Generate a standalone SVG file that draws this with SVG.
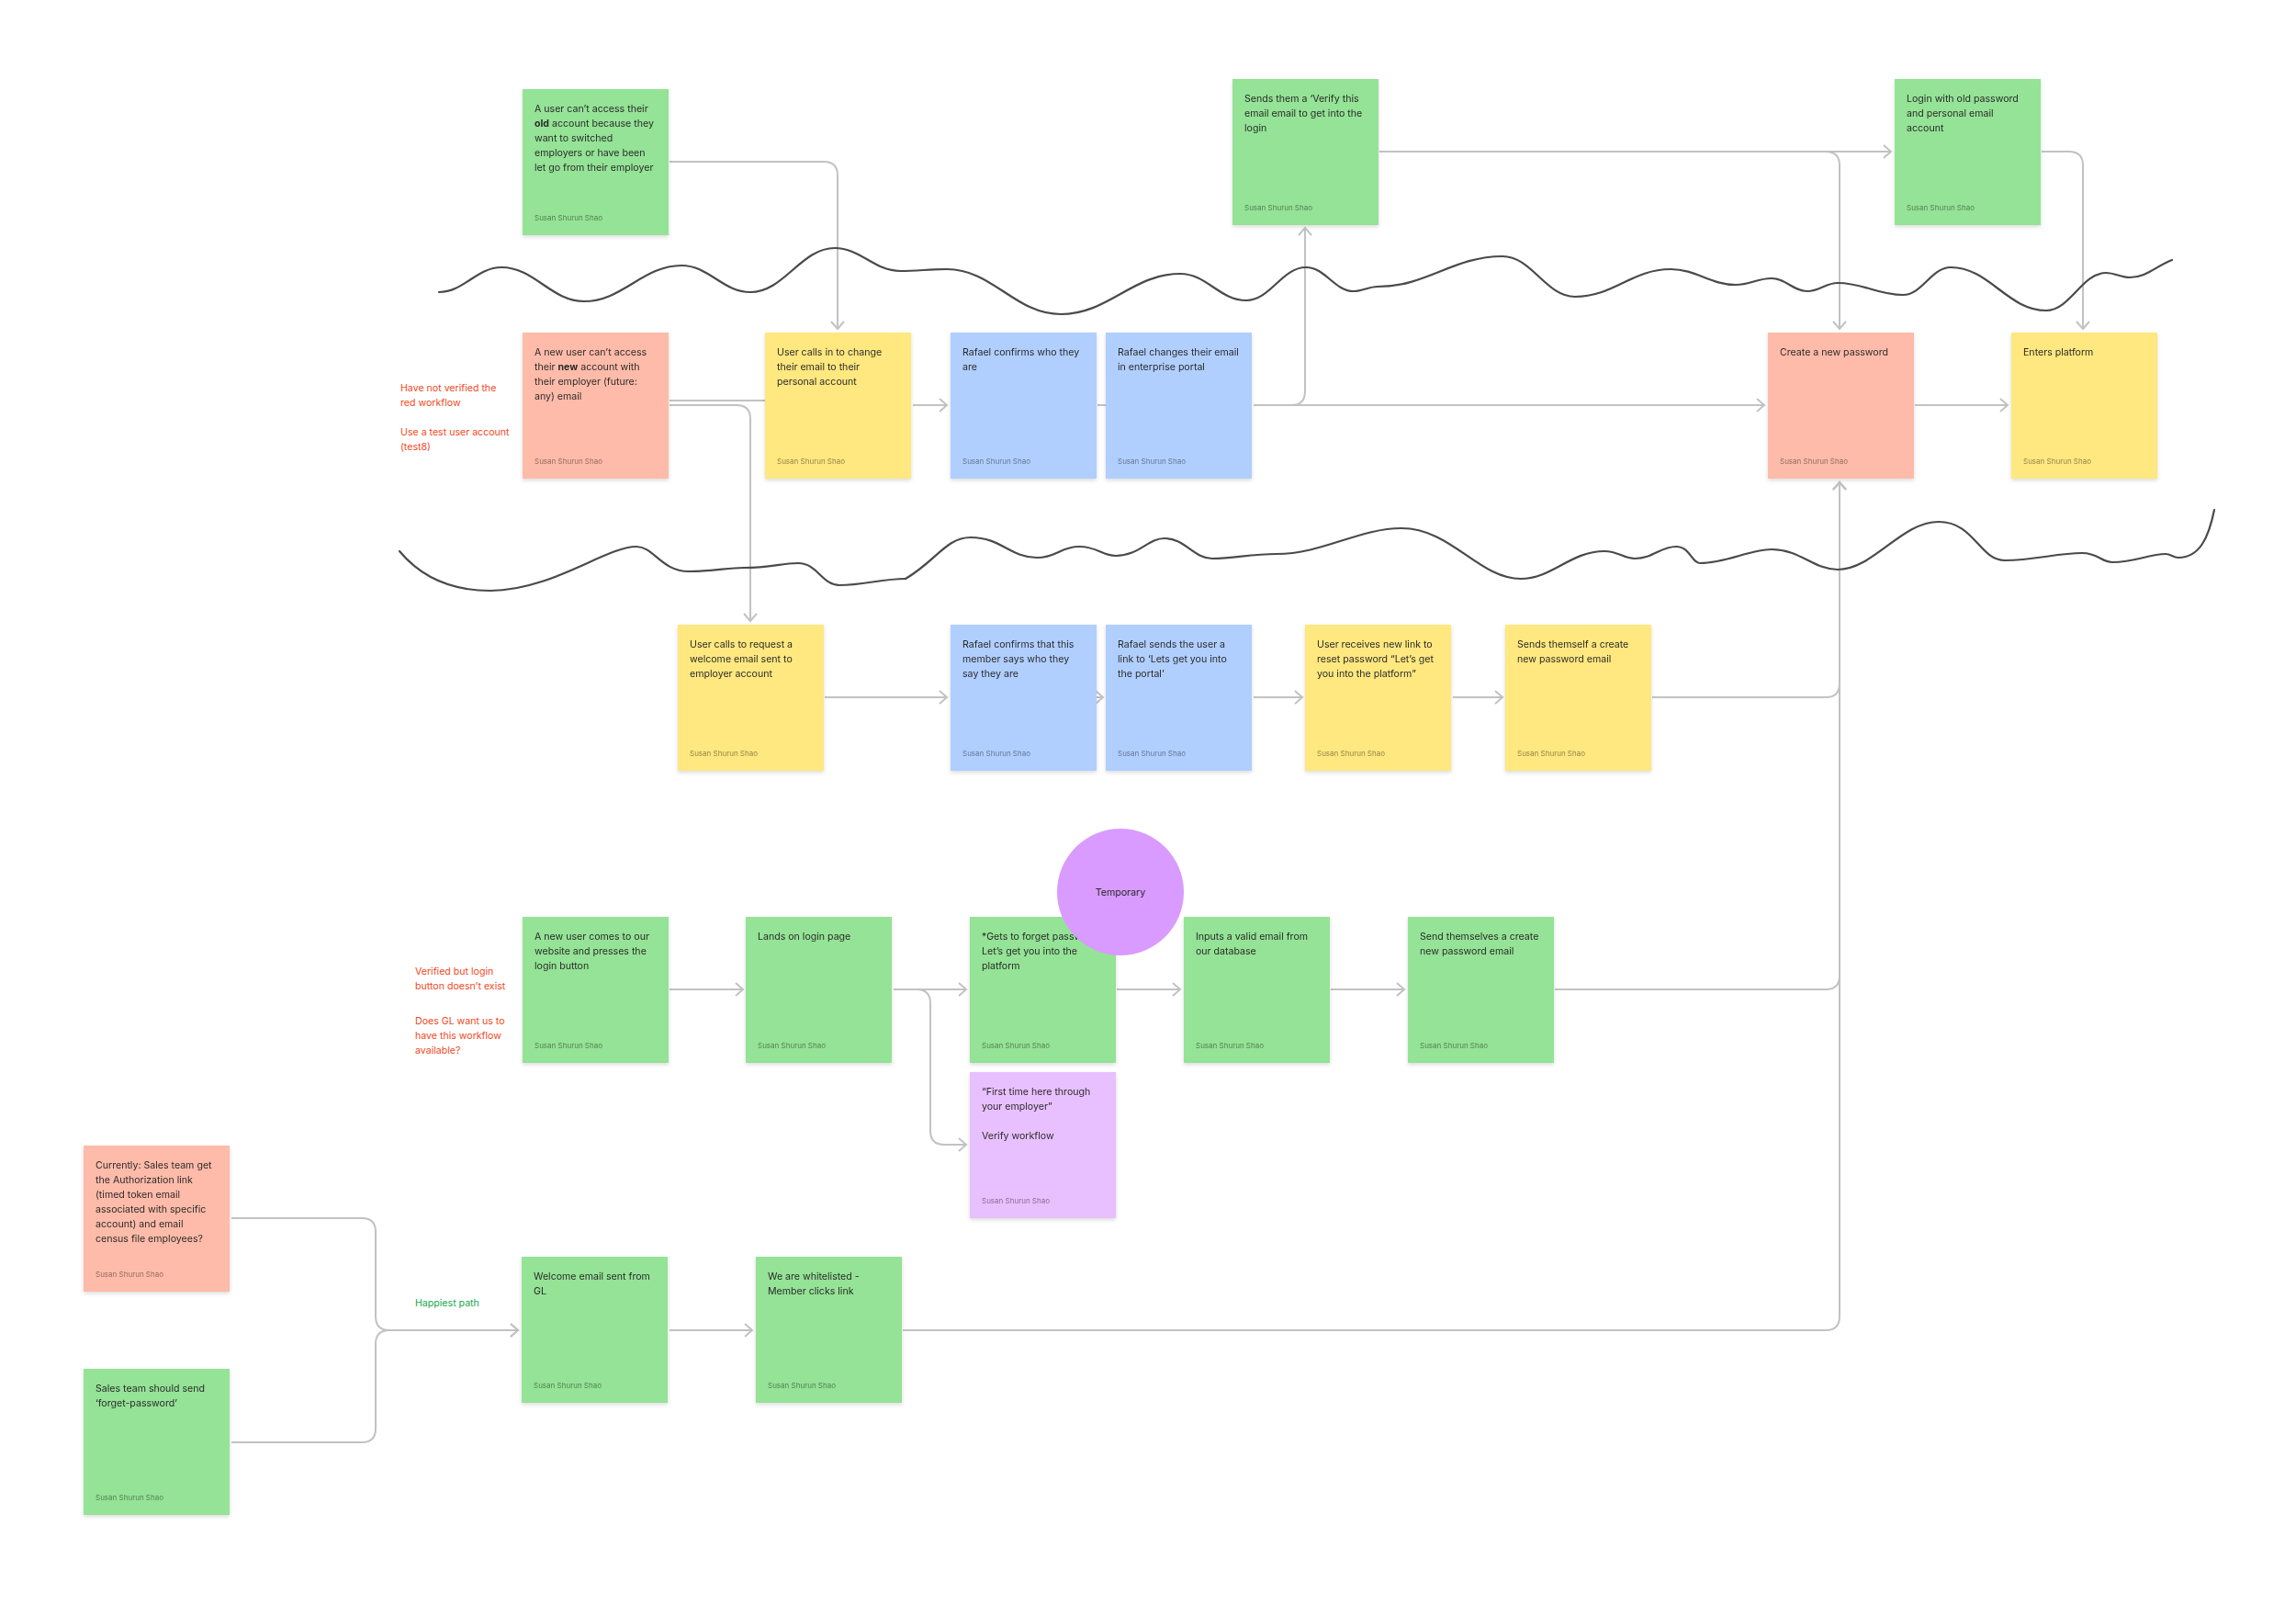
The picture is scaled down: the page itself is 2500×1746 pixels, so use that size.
<svg xmlns="http://www.w3.org/2000/svg" width="2500" height="1746" viewBox="0 0 2500 1746">
<style>
.t{font-family:Inter,"Liberation Sans",sans-serif;font-size:10.6px;fill:#2a2a2a}
.au{font-family:Inter,"Liberation Sans",sans-serif;font-size:8px;fill:#000;fill-opacity:.45}
.note{filter:url(#sh)}
.g{fill:#94E396}.r{fill:#FFBBA9}.y{fill:#FFE87F}.b{fill:#B0CFFF}.p{fill:#E9C0FF}
.c{fill:none;stroke:#C2C2C2;stroke-width:2}
.ca{marker-end:url(#arr)}
.sq{fill:none;stroke:#4a4a4a;stroke-width:2.2;stroke-linecap:round;stroke-linejoin:round}
.red{font-family:Inter,"Liberation Sans",sans-serif;font-size:10.6px;fill:#F24822}
.grn{font-family:Inter,"Liberation Sans",sans-serif;font-size:10.6px;fill:#14A84A}
</style>
<defs>
<filter id="sh" x="-10%" y="-10%" width="125%" height="130%">
<feDropShadow dx="0" dy="2" stdDeviation="2" flood-color="#000" flood-opacity="0.14"/>
</filter>
<marker id="arr" markerUnits="userSpaceOnUse" viewBox="0 0 14 16" markerWidth="14" markerHeight="16" refX="11" refY="8" orient="auto">
<path d="M3,1 L11,8 L3,15" fill="none" stroke="#C2C2C2" stroke-width="2"/>
</marker>
</defs>
<rect width="2500" height="1746" fill="#fff"/>

<g id="connectors">
<path class="c ca" d="M729,176 H897 Q912,176 912,191 V358"/>
<path class="c" d="M729,436 H833"/>
<path class="c ca" d="M994,441 H1031"/>
<path class="c" d="M1195,441 H1204"/>
<path class="c ca" d="M1365,441 H1921"/>
<path class="c ca" d="M1365,441 H1406 Q1421,441 1421,426 V248"/>
<path class="c ca" d="M1502,165 H2059"/>
<path class="c ca" d="M1502,165 H1988 Q2003,165 2003,180 V358"/>
<path class="c ca" d="M2223,165 H2253 Q2268,165 2268,180 V358"/>
<path class="c ca" d="M2085,441 H2186"/>
<path class="c ca" d="M729,441 H802 Q817,441 817,456 V676"/>
<path class="c ca" d="M898,759 H1031"/>
<path class="c ca" d="M1194,759 H1201"/>
<path class="c ca" d="M1365,759 H1418"/>
<path class="c ca" d="M1582,759 H1636"/>
<path class="c ca" d="M1799,759 H1988 Q2003,759 2003,744 V525"/>
<path class="c ca" d="M729,1077 H809"/>
<path class="c ca" d="M973,1077 H1052"/>
<path class="c ca" d="M973,1077 H998 Q1013,1077 1013,1092 V1231 Q1013,1246 1028,1246 H1052"/>
<path class="c ca" d="M1216,1077 H1285"/>
<path class="c ca" d="M1449,1077 H1529"/>
<path class="c ca" d="M1693,1077 H1988 Q2003,1077 2003,1062 V525"/>
<path class="c ca" d="M252,1326 H394 Q409,1326 409,1341 V1433 Q409,1448 424,1448 H564"/>
<path class="c ca" d="M252,1570 H394 Q409,1570 409,1555 V1463 Q409,1448 424,1448 H564"/>
<path class="c ca" d="M729,1448 H819"/>
<path class="c ca" d="M983,1448 H1988 Q2003,1448 2003,1433 V525"/>
</g>

<g id="squiggles">
<path class="sq" d="M478,318 C505,318 519,291 546,291 C582,291 600,328 636,328 C678,328 700,289 742,289 C772,289 787,318 817,318 C854,318 872,270 909,270 C937,270 952,295 980,295 C1000,295 1011,293 1031,293 C1081,293 1105,342 1155,342 C1207,342 1233,298 1285,298 C1314,298 1328,327 1357,327 C1383,327 1396,291 1422,291 C1443,291 1453,317 1474,317 C1484,317 1490,312 1500,312 C1554,312 1582,279 1636,279 C1668,279 1683,323 1715,323 C1757,323 1777,293 1819,293 C1847,293 1862,310 1890,310 C1906,310 1913,303 1929,303 C1945,303 1952,317 1968,317 C1981,317 1988,308 2001,308 C2029,308 2044,321 2072,321 C2093,321 2103,291 2124,291 C2166,291 2186,338 2228,338 C2254,338 2267,297 2293,297 C2303,297 2309,302 2319,302 C2337,302 2347,290 2365,283"/>
<path class="sq" d="M435,600 C460,630 495,643 534,643 C600,643 660,595 693,595 C712,595 720,622 750,622 C780,622 790,618 810,618 C840,618 850,613 869,613 C890,613 895,637 914,637 C940,637 960,630 986,630"/>
<path class="sq" d="M986,630 C1020,610 1030,585 1057,585 C1090,585 1100,607 1129,607 C1150,607 1155,595 1175,595 C1195,595 1200,605 1215,605 C1240,605 1250,586 1268,586 C1290,586 1300,608 1320,608 C1345,608 1360,603 1390,603 C1440,603 1480,575 1526,575 C1580,575 1610,630 1656,630 C1690,630 1710,600 1747,600 C1762,600 1768,608 1780,608 C1800,608 1808,595 1825,595 C1840,595 1842,613 1851,613 C1880,613 1905,598 1929,598 C1960,598 1975,620 2001,620 C2040,620 2070,568 2111,568 C2150,568 2155,610 2183,610 C2215,610 2240,602 2267,602 C2285,602 2288,612 2300,612 C2325,612 2340,603 2358,603 C2364,603 2366,607 2372,607 C2395,607 2405,585 2411,555"/>
</g>

<g id="note-a" class="note"><rect class="g" x="569" y="97" width="159" height="159"/>
<text class="t" x="582" y="122"><tspan x="582">A user can’t access their</tspan><tspan x="582" dy="16"><tspan font-weight="700">old</tspan> account because they</tspan><tspan x="582" dy="16">want to switched</tspan><tspan x="582" dy="16">employers or have been</tspan><tspan x="582" dy="16">let go from their employer</tspan></text>
<text class="au" x="582" y="240">Susan Shurun Shao</text></g>

<g id="note-b" class="note"><rect class="r" x="569" y="362" width="159" height="159"/>
<text class="t" x="582" y="387"><tspan x="582">A new user can’t access</tspan><tspan x="582" dy="16">their <tspan font-weight="700">new</tspan> account with</tspan><tspan x="582" dy="16">their employer (future:</tspan><tspan x="582" dy="16">any) email</tspan></text>
<text class="au" x="582" y="505">Susan Shurun Shao</text></g>

<g id="note-c" class="note"><rect class="y" x="833" y="362" width="159" height="159"/>
<text class="t" x="846" y="387"><tspan x="846">User calls in to change</tspan><tspan x="846" dy="16">their email to their</tspan><tspan x="846" dy="16">personal account</tspan></text>
<text class="au" x="846" y="505">Susan Shurun Shao</text></g>

<g id="note-d" class="note"><rect class="b" x="1035" y="362" width="159" height="159"/>
<text class="t" x="1048" y="387"><tspan x="1048">Rafael confirms who they</tspan><tspan x="1048" dy="16">are</tspan></text>
<text class="au" x="1048" y="505">Susan Shurun Shao</text></g>

<g id="note-e" class="note"><rect class="b" x="1204" y="362" width="159" height="159"/>
<text class="t" x="1217" y="387"><tspan x="1217">Rafael changes their email</tspan><tspan x="1217" dy="16">in enterprise portal</tspan></text>
<text class="au" x="1217" y="505">Susan Shurun Shao</text></g>

<g id="note-f" class="note"><rect class="g" x="1342" y="86" width="159" height="159"/>
<text class="t" x="1355" y="111"><tspan x="1355">Sends them a ‘Verify this</tspan><tspan x="1355" dy="16">email email to get into the</tspan><tspan x="1355" dy="16">login</tspan></text>
<text class="au" x="1355" y="229">Susan Shurun Shao</text></g>

<g id="note-g" class="note"><rect class="g" x="2063" y="86" width="159" height="159"/>
<text class="t" x="2076" y="111"><tspan x="2076">Login with old password</tspan><tspan x="2076" dy="16">and personal email</tspan><tspan x="2076" dy="16">account</tspan></text>
<text class="au" x="2076" y="229">Susan Shurun Shao</text></g>

<g id="note-h" class="note"><rect class="r" x="1925" y="362" width="159" height="159"/>
<text class="t" x="1938" y="387">Create a new password</text>
<text class="au" x="1938" y="505">Susan Shurun Shao</text></g>

<g id="note-i" class="note"><rect class="y" x="2190" y="362" width="159" height="159"/>
<text class="t" x="2203" y="387">Enters platform</text>
<text class="au" x="2203" y="505">Susan Shurun Shao</text></g>

<g id="note-j" class="note"><rect class="y" x="738" y="680" width="159" height="159"/>
<text class="t" x="751" y="705"><tspan x="751">User calls to request a</tspan><tspan x="751" dy="16">welcome email sent to</tspan><tspan x="751" dy="16">employer account</tspan></text>
<text class="au" x="751" y="823">Susan Shurun Shao</text></g>

<g id="note-k" class="note"><rect class="b" x="1035" y="680" width="159" height="159"/>
<text class="t" x="1048" y="705"><tspan x="1048">Rafael confirms that this</tspan><tspan x="1048" dy="16">member says who they</tspan><tspan x="1048" dy="16">say they are</tspan></text>
<text class="au" x="1048" y="823">Susan Shurun Shao</text></g>

<g id="note-l" class="note"><rect class="b" x="1204" y="680" width="159" height="159"/>
<text class="t" x="1217" y="705"><tspan x="1217">Rafael sends the user a</tspan><tspan x="1217" dy="16">link to ‘Lets get you into</tspan><tspan x="1217" dy="16">the portal’</tspan></text>
<text class="au" x="1217" y="823">Susan Shurun Shao</text></g>

<g id="note-m" class="note"><rect class="y" x="1421" y="680" width="159" height="159"/>
<text class="t" x="1434" y="705"><tspan x="1434">User receives new link to</tspan><tspan x="1434" dy="16">reset password “Let’s get</tspan><tspan x="1434" dy="16">you into the platform”</tspan></text>
<text class="au" x="1434" y="823">Susan Shurun Shao</text></g>

<g id="note-n" class="note"><rect class="y" x="1639" y="680" width="159" height="159"/>
<text class="t" x="1652" y="705"><tspan x="1652">Sends themself a create</tspan><tspan x="1652" dy="16">new password email</tspan></text>
<text class="au" x="1652" y="823">Susan Shurun Shao</text></g>

<g id="note-o" class="note"><rect class="g" x="569" y="998" width="159" height="159"/>
<text class="t" x="582" y="1023"><tspan x="582">A new user comes to our</tspan><tspan x="582" dy="16">website and presses the</tspan><tspan x="582" dy="16">login button</tspan></text>
<text class="au" x="582" y="1141">Susan Shurun Shao</text></g>

<g id="note-p" class="note"><rect class="g" x="812" y="998" width="159" height="159"/>
<text class="t" x="825" y="1023">Lands on login page</text>
<text class="au" x="825" y="1141">Susan Shurun Shao</text></g>

<g id="note-q" class="note"><rect class="g" x="1056" y="998" width="159" height="159"/>
<text class="t" x="1069" y="1023"><tspan x="1069">*Gets to forget password</tspan><tspan x="1069" dy="16">Let’s get you into the</tspan><tspan x="1069" dy="16">platform</tspan></text>
<text class="au" x="1069" y="1141">Susan Shurun Shao</text></g>

<g id="note-r" class="note"><rect class="g" x="1289" y="998" width="159" height="159"/>
<text class="t" x="1302" y="1023"><tspan x="1302">Inputs a valid email from</tspan><tspan x="1302" dy="16">our database</tspan></text>
<text class="au" x="1302" y="1141">Susan Shurun Shao</text></g>

<g id="note-s" class="note"><rect class="g" x="1533" y="998" width="159" height="159"/>
<text class="t" x="1546" y="1023"><tspan x="1546">Send themselves a create</tspan><tspan x="1546" dy="16">new password email</tspan></text>
<text class="au" x="1546" y="1141">Susan Shurun Shao</text></g>

<g id="note-t" class="note"><rect class="p" x="1056" y="1167" width="159" height="159"/>
<text class="t" x="1069" y="1192"><tspan x="1069">“First time here through</tspan><tspan x="1069" dy="16">your employer”</tspan><tspan x="1069" dy="32">Verify workflow</tspan></text>
<text class="au" x="1069" y="1310">Susan Shurun Shao</text></g>

<g id="note-u" class="note"><rect class="r" x="91" y="1247" width="159" height="159"/>
<text class="t" x="104" y="1272"><tspan x="104">Currently: Sales team get</tspan><tspan x="104" dy="16">the Authorization link</tspan><tspan x="104" dy="16">(timed token email</tspan><tspan x="104" dy="16">associated with specific</tspan><tspan x="104" dy="16">account) and email</tspan><tspan x="104" dy="16">census file employees?</tspan></text>
<text class="au" x="104" y="1390">Susan Shurun Shao</text></g>

<g id="note-v" class="note"><rect class="g" x="91" y="1490" width="159" height="159"/>
<text class="t" x="104" y="1515"><tspan x="104">Sales team should send</tspan><tspan x="104" dy="16">‘forget-password’</tspan></text>
<text class="au" x="104" y="1633">Susan Shurun Shao</text></g>

<g id="note-w" class="note"><rect class="g" x="568" y="1368" width="159" height="159"/>
<text class="t" x="581" y="1393"><tspan x="581">Welcome email sent from</tspan><tspan x="581" dy="16">GL</tspan></text>
<text class="au" x="581" y="1511">Susan Shurun Shao</text></g>

<g id="note-x" class="note"><rect class="g" x="823" y="1368" width="159" height="159"/>
<text class="t" x="836" y="1393"><tspan x="836">We are whitelisted -</tspan><tspan x="836" dy="16">Member clicks link</tspan></text>
<text class="au" x="836" y="1511">Susan Shurun Shao</text></g>

<g id="temporary"><circle cx="1220" cy="971" r="69" fill="#D99BFF"/>
<text class="t" x="1220" y="975" text-anchor="middle">Temporary</text></g>

<g id="annotations">
<text class="red" x="436" y="426"><tspan x="436">Have not verified the</tspan><tspan x="436" dy="16">red workflow</tspan></text>
<text class="red" x="436" y="474"><tspan x="436">Use a test user account</tspan><tspan x="436" dy="16">(test8)</tspan></text>
<text class="red" x="452" y="1061"><tspan x="452">Verified but login</tspan><tspan x="452" dy="16">button doesn’t exist</tspan></text>
<text class="red" x="452" y="1115"><tspan x="452">Does GL want us to</tspan><tspan x="452" dy="16">have this workflow</tspan><tspan x="452" dy="16">available?</tspan></text>
<text class="grn" x="452" y="1422">Happiest path</text>
</g>
</svg>
